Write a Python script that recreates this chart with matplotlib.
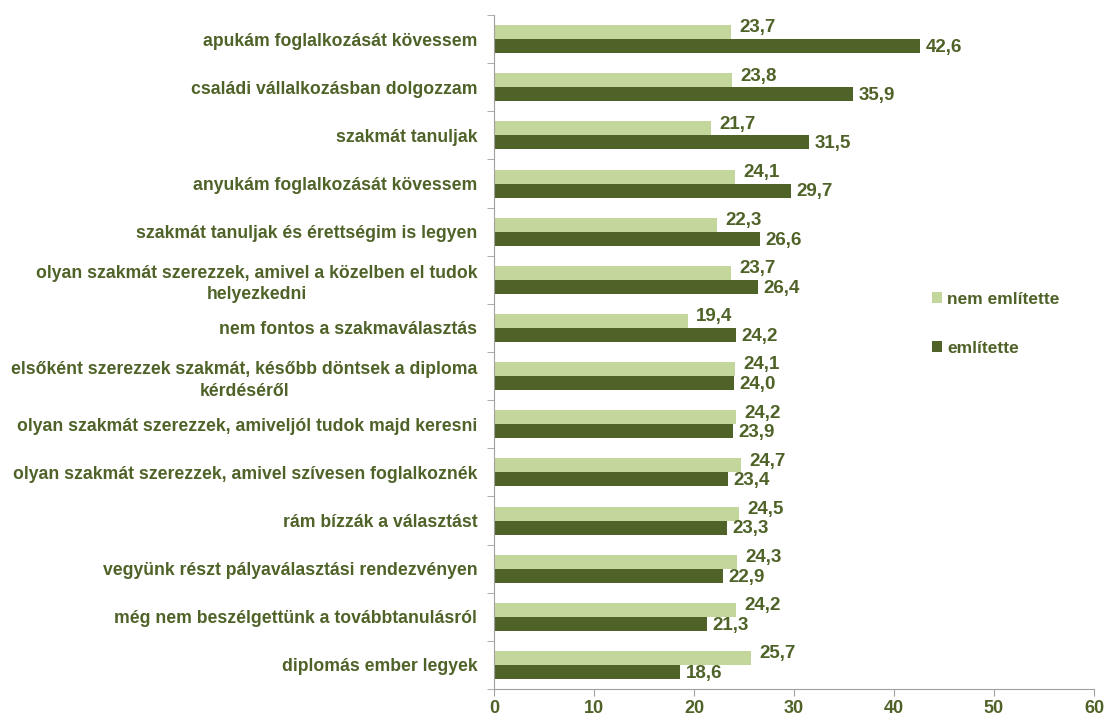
import numpy as np
import matplotlib.pyplot as plt
from matplotlib.ticker import FixedLocator

kategoriak = [
    'apukám foglalkozását kövessem',
    'családi vállalkozásban dolgozzam',
    'szakmát tanuljak',
    'anyukám foglalkozását kövessem',
    'szakmát tanuljak és érettségim is legyen',
    'olyan szakmát szerezzek, amivel a közelben el tudok\nhelyezkedni',
    'nem fontos a szakmaválasztás',
    'elsőként szerezzek szakmát, később döntsek a diploma\nkérdéséről',
    'olyan szakmát szerezzek, amiveljól tudok majd keresni',
    'olyan szakmát szerezzek, amivel szívesen foglalkoznék',
    'rám bízzák a választást',
    'vegyünk részt pályaválasztási rendezvényen',
    'még nem beszélgettünk a továbbtanulásról',
    'diplomás ember legyek',
]
nem_emlitette = [23.7, 23.8, 21.7, 24.1, 22.3, 23.7, 19.4, 24.1, 24.2, 24.7, 24.5, 24.3, 24.2, 25.7]
emlitette = [42.6, 35.9, 31.5, 29.7, 26.6, 26.4, 24.2, 24.0, 23.9, 23.4, 23.3, 22.9, 21.3, 18.6]

szoveg = '#4F6228'
vilagos = '#C3D69B'
sotet = '#4F6228'

plt.rcParams['font.family'] = ['Liberation Sans', 'DejaVu Sans']
plt.rcParams['font.weight'] = 'bold'

fig = plt.figure(figsize=(11.05, 7.17), dpi=100)
ax = fig.add_axes([0.447, 0.039, 0.543, 0.94])

y = np.arange(len(kategoriak))
h = 0.29
b1 = ax.barh(y - h / 2, nem_emlitette, height=h, color=vilagos, label='nem említette')
b2 = ax.barh(y + h / 2, emlitette, height=h, color=sotet, label='említette')

# értékcímkék a sávok végén
for rect, v in zip(b1, nem_emlitette):
    ax.annotate(f'{v:.1f}'.replace('.', ','), (rect.get_width(), rect.get_y() + rect.get_height() / 2),
                xytext=(6, 3), textcoords='offset points', ha='left', va='center',
                fontsize=13.5, fontweight='bold', color=szoveg)
for rect, v in zip(b2, emlitette):
    ax.annotate(f'{v:.1f}'.replace('.', ','), (rect.get_width(), rect.get_y() + rect.get_height() / 2),
                xytext=(4, -1), textcoords='offset points', ha='left', va='center',
                fontsize=13.5, fontweight='bold', color=szoveg)

ax.set_xlim(0, 60)
ax.set_ylim(len(kategoriak) - 0.5, -0.5)
ax.set_xticks(range(0, 61, 10))
ax.set_yticks(y)
ax.set_yticklabels(kategoriak, fontsize=12.7, fontweight='bold', color=szoveg)
for lab in ax.get_yticklabels():
    lab.set_multialignment('center')
    lab.set_linespacing(1.35)
ax.yaxis.set_minor_locator(FixedLocator(np.arange(-0.5, len(kategoriak), 1)))
ax.tick_params(axis='y', which='major', length=0, pad=12)
ax.tick_params(axis='y', which='minor', length=5, color='#A0A0A0')
ax.tick_params(axis='x', length=5, color='#A0A0A0', labelsize=13, labelcolor=szoveg, pad=3)
for lab in ax.get_xticklabels():
    lab.set_fontweight('bold')

for s in ['top', 'right']:
    ax.spines[s].set_visible(False)
for s in ['left', 'bottom']:
    ax.spines[s].set_color('#A0A0A0')

leg = fig.legend(handles=[b1, b2], loc='upper left', bbox_to_anchor=(0.829, 0.615), frameon=False,
                 handlelength=0.6, handleheight=0.6, handletextpad=0.3, labelspacing=1.95,
                 prop={'size': 12.5, 'weight': 'bold'})
for t in leg.get_texts():
    t.set_color(szoveg)

fig.savefig('out.png', dpi=100)
